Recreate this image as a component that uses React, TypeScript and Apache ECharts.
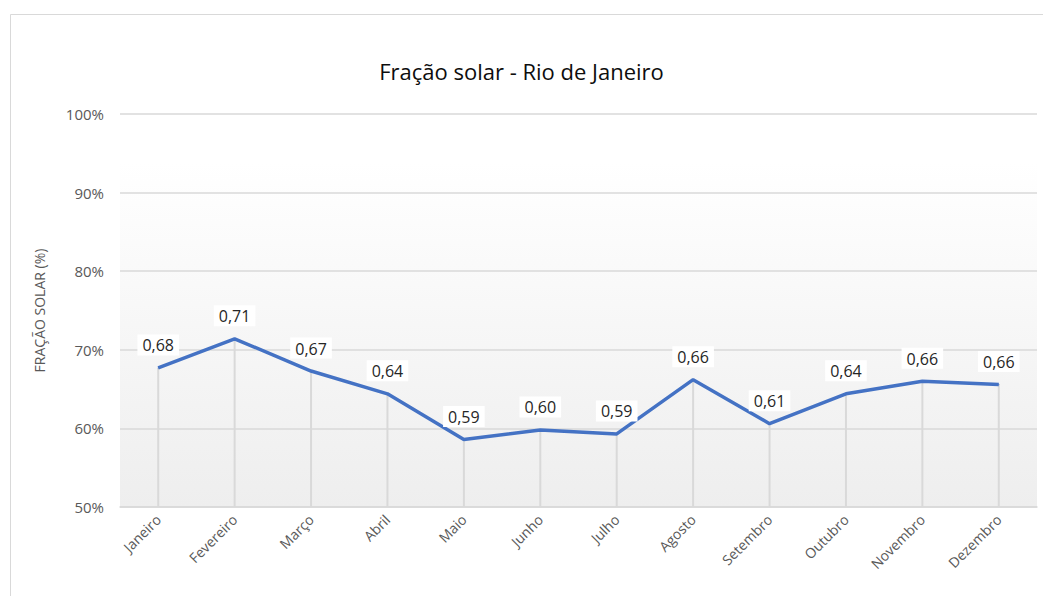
import React, { useEffect, useRef } from "react";
import * as echarts from "echarts";

const months = ["Janeiro", "Fevereiro", "Março", "Abril", "Maio", "Junho", "Julho", "Agosto", "Setembro", "Outubro", "Novembro", "Dezembro"];
const fracaoSolar = [0.677, 0.714, 0.673, 0.644, 0.586, 0.598, 0.593, 0.662, 0.606, 0.644, 0.660, 0.656];
const yTicks = { min: 0.5, max: 1.0, interval: 0.1 };
const title = "Fração solar - Rio de Janeiro";
const yName = "FRAÇÃO SOLAR (%)";

const FONT = "'Open Sans', 'Noto Sans', sans-serif";

export default function App() {
  const ref = useRef<HTMLDivElement>(null);
  useEffect(() => {
    if (!ref.current) return;
    const chart = echarts.init(ref.current, undefined, { renderer: "svg" });
    chart.setOption({
      animation: false,
      backgroundColor: "#ffffff",
      textStyle: { fontFamily: FONT },
      title: {
        text: title,
        left: "center",
        top: 55,
        textStyle: { fontFamily: FONT, fontSize: 22, fontWeight: "normal", color: "#0d0d0d" },
      },
      graphic: [
        {
          type: "rect",
          shape: { x: 10.5, y: 14.5, width: 1100, height: 700 },
          style: { fill: "none", stroke: "#d9d9d9", lineWidth: 1 },
          silent: true,
        },
      ],
      grid: {
        left: 120,
        right: 6,
        top: 114,
        bottom: 89,
        show: true,
        borderWidth: 0,
        backgroundColor: new echarts.graphic.LinearGradient(0, 0, 0, 1, [
          { offset: 0, color: "#ffffff" },
          { offset: 0.12, color: "#ffffff" },
          { offset: 1, color: "#eeeeee" },
        ]),
      },
      xAxis: {
        type: "category",
        data: months,
        boundaryGap: true,
        axisLine: { show: true, lineStyle: { color: "#d9d9d9", width: 1.5 } },
        axisTick: { show: false },
        axisLabel: { rotate: 45, fontSize: 14, color: "#595959", margin: 10, fontFamily: FONT, interval: 0 },
        splitLine: { show: false },
      },
      yAxis: {
        type: "value",
        min: yTicks.min,
        max: yTicks.max,
        interval: yTicks.interval,
        name: yName,
        nameLocation: "middle",
        nameRotate: 90,
        nameGap: 74,
        nameTextStyle: { fontSize: 14, color: "#595959", fontFamily: FONT },
        axisLine: { show: false },
        axisTick: { show: false },
        axisLabel: {
          fontSize: 15,
          color: "#595959",
          margin: 16,
          fontFamily: FONT,
          formatter: (v: number) => Math.round(v * 100) + "%",
        },
        splitLine: { show: true, lineStyle: { color: "#d9d9d9", width: 1.5 } },
      },
      series: [
        {
          type: "bar",
          data: fracaoSolar,
          barWidth: 2,
          barGap: "-100%",
          itemStyle: { color: "#d9d9d9" },
          silent: true,
          z: 1,
        },
        {
          type: "line",
          data: fracaoSolar,
          symbol: "circle",
          symbolSize: 1,
          showSymbol: true,
          lineStyle: { color: "#4472C4", width: 3.5 },
          itemStyle: { color: "#4472C4" },
          z: 3,
          label: {
            show: true,
            position: "top",
            distance: 12,
            fontSize: 16,
            color: "#262626",
            fontFamily: FONT,
            backgroundColor: "#ffffff",
            padding: [3, 5, 2, 5],
            formatter: (p: any) => p.value.toFixed(2).replace(".", ","),
          },
        },
      ],
    });
    return () => chart.dispose();
  }, []);
  return <div ref={ref} style={{ position: "fixed", left: 0, top: 0, width: 1043, height: 596 }} />;
}
